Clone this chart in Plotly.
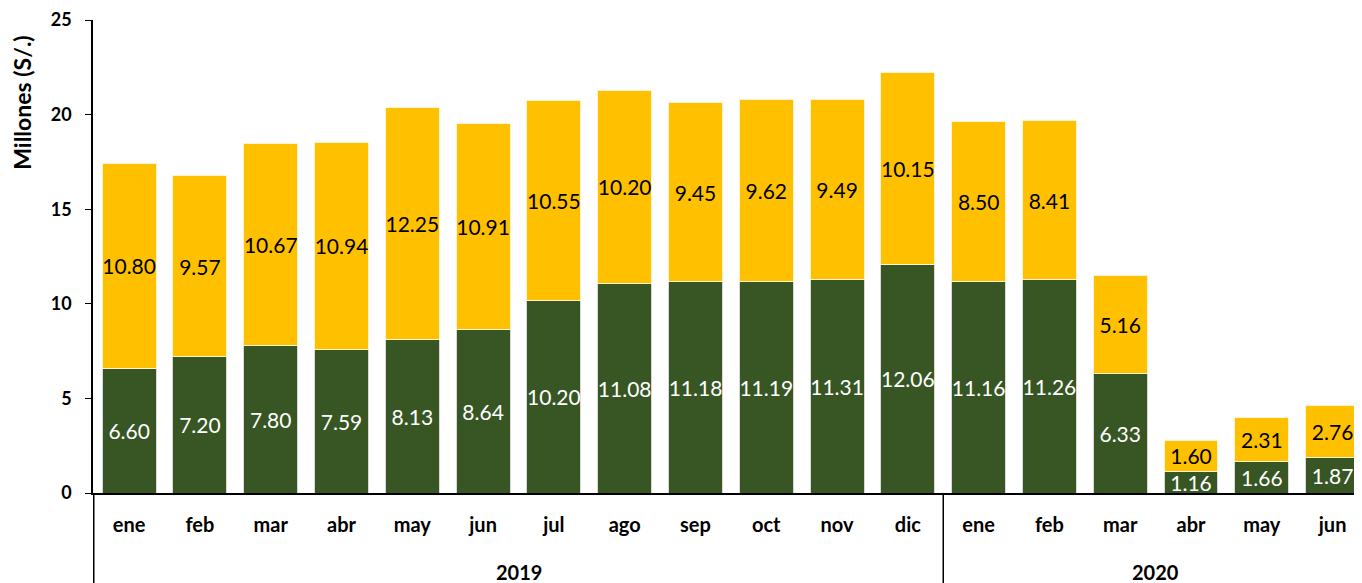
import plotly.graph_objects as go

years = ["2019"] * 12 + ["2020"] * 6
months = ["ene", "feb", "mar", "abr", "may", "jun", "jul", "ago", "sep", "oct", "nov", "dic",
          "ene", "feb", "mar", "abr", "may", "jun"]
green_vals = [6.60, 7.20, 7.80, 7.59, 8.13, 8.64, 10.20, 11.08, 11.18, 11.19, 11.31, 12.06,
              11.16, 11.26, 6.33, 1.16, 1.66, 1.87]
yellow_vals = [10.80, 9.57, 10.67, 10.94, 12.25, 10.91, 10.55, 10.20, 9.45, 9.62, 9.49, 10.15,
               8.50, 8.41, 5.16, 1.60, 2.31, 2.76]
y_ticks = [0, 5, 10, 15, 20, 25]
year_groups = ["2019", "2020"]
y_title = "Millones (S/.)"

FONT = "Lato"

# unique category keys (month + year), displayed with the month name only
cats = [f"{m} {y}" for m, y in zip(months, years)]

fig = go.Figure()
fig.add_trace(go.Bar(
    x=cats, y=green_vals,
    marker=dict(color="#375623", line=dict(color="#d9d9d9", width=1)),
    text=[f"{v:.2f}" for v in green_vals], textposition="inside",
    insidetextanchor="middle", textangle=0, constraintext="none",
    textfont=dict(family=FONT, size=21, color="white"),
    showlegend=False, hoverinfo="skip",
))
fig.add_trace(go.Bar(
    x=cats, y=yellow_vals,
    marker=dict(color="#FFC000", line=dict(color="#fff2cc", width=1)),
    text=[f"{v:.2f}" for v in yellow_vals], textposition="inside",
    insidetextanchor="middle", textangle=0, constraintext="none",
    textfont=dict(family=FONT, size=21, color="black"),
    showlegend=False, hoverinfo="skip",
))

W, H = 1360, 575
ML, MR, MT, MB = 85, 0, 12, 90
plot_h = H - MT - MB
plot_w = W - ML - MR

# year group labels and dividers, positioned on the category scale
for yr in year_groups:
    idx = [i for i, y in enumerate(years) if y == yr]
    fig.add_annotation(
        x=(idx[0] + idx[-1]) / 2, xref="x", y=-79 / plot_h, yref="paper",
        text=f"<b>{yr}</b>", showarrow=False, yanchor="middle",
        font=dict(family=FONT, size=20, color="black"),
    )
    fig.add_shape(
        type="line", xref="x", yref="paper",
        x0=idx[0] - 0.5, x1=idx[0] - 0.5, y0=0, y1=-90 / plot_h,
        line=dict(color="black", width=1.5),
    )

# y-axis title placed near the top, as in the original
fig.add_annotation(
    x=-71 / plot_w, xref="paper", y=0.825, yref="paper",
    text=f"<b>{y_title}</b>", textangle=-90, showarrow=False,
    xanchor="center", yanchor="middle",
    font=dict(family=FONT, size=23, color="black"),
)

fig.update_layout(
    barmode="stack",
    bargap=0.238,
    width=W, height=H,
    margin=dict(l=ML, r=MR, t=MT, b=MB),
    plot_bgcolor="white", paper_bgcolor="white",
    font=dict(family=FONT, color="black"),
)
fig.update_yaxes(
    range=[0, 25], tickvals=y_ticks, showgrid=False, zeroline=False,
    showline=True, linecolor="black", linewidth=1.5,
    ticks="outside", ticklen=6, tickcolor="black", automargin=False,
    ticklabelstandoff=10,
    tickfont=dict(family=FONT, size=18, color="black", weight="bold"),
)
fig.update_xaxes(
    type="category", tickvals=cats, ticktext=months,
    showgrid=False, showline=True, linecolor="black", linewidth=1.5,
    ticks="", automargin=False, ticklabelstandoff=13,
    tickfont=dict(family=FONT, size=20, color="black", weight="bold"),
)

fig.write_html("out.html")
